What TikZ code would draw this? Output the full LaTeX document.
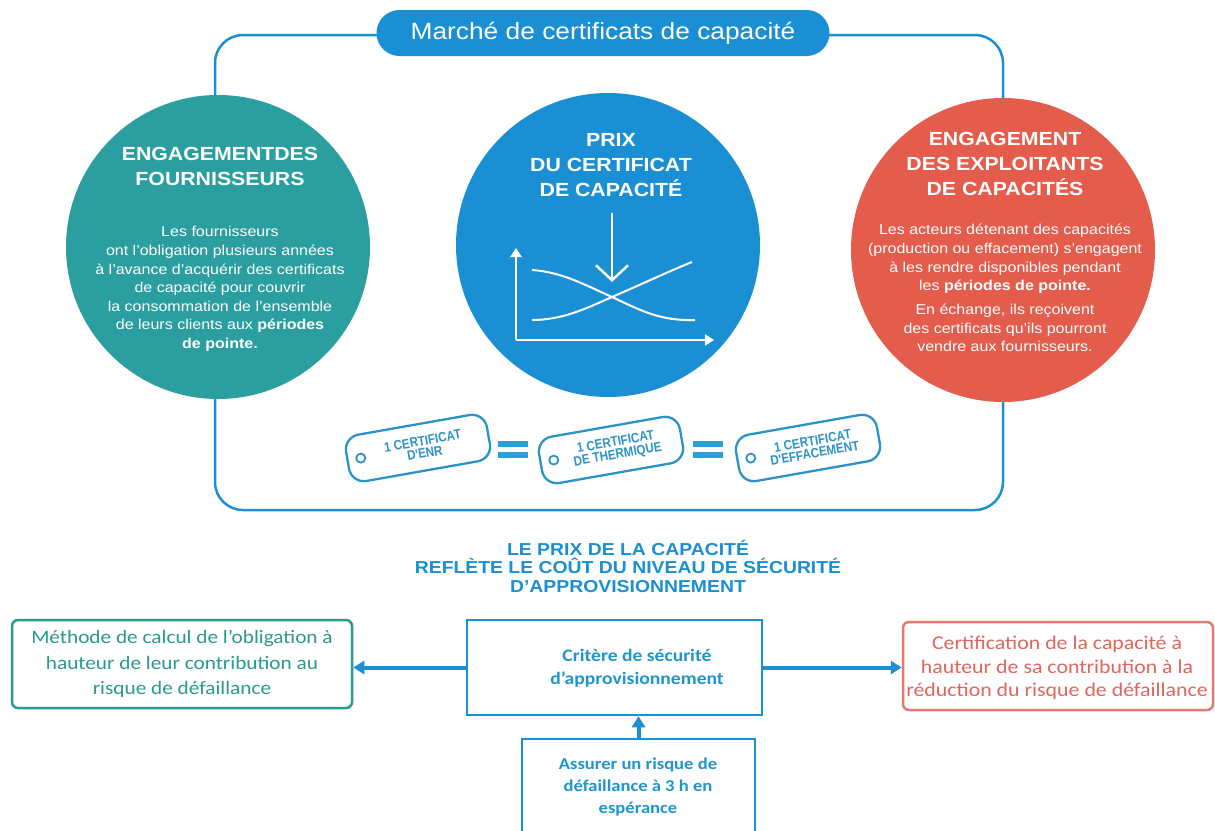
\documentclass[tikz,border=0pt]{standalone}
\usepackage{fontspec}
\setmainfont{Liberation Sans}[FakeStretch=1.12]
\newfontfamily\calfont{Carlito}[FakeStretch=1.12]
\newfontfamily\tagfont{Liberation Sans}[FakeStretch=0.86]
\usetikzlibrary{arrows.meta,calc,shapes.misc}
\definecolor{mblue}{HTML}{1B8FD4}
\definecolor{mteal}{HTML}{2B9EA0}
\definecolor{mred}{HTML}{E45C4C}
\definecolor{tagblue}{HTML}{2C93C9}
\definecolor{eqblue}{HTML}{2A9FD8}
\definecolor{boxteal}{HTML}{2A9A8E}
\definecolor{boxred}{HTML}{E27A6F}
\definecolor{txtred}{HTML}{E0665D}
\definecolor{txtblue}{HTML}{1F95CF}
\tikzset{
  frameline/.style={draw=mblue, line width=2.5pt},
  bubble/.style={circle, minimum size=304pt, inner sep=0pt},
  pill/.style={rounded rectangle, fill=mblue, text=white, minimum width=453pt, minimum height=46pt, inner sep=0pt, font=\fontsize{23.5}{26}\selectfont},
  ctitle/.style={text=white, align=center, inner sep=0pt, font=\bfseries\fontsize{19}{25}\selectfont},
  cbody/.style={text=white, align=center, inner sep=0pt, font=\fontsize{14.3}{18.6}\selectfont},
  chart/.style={draw=white, line width=2pt},
  tagbox/.style={draw=tagblue, line width=2.3pt, fill=white, rounded corners=15pt, minimum width=143pt, minimum height=47pt, rotate=10},
  tagtxt/.style={text=tagblue, align=center, inner sep=0pt, rotate=10, font=\tagfont\bfseries\fontsize{13.5}{12.5}\selectfont},
  tagdot/.style={circle, draw=tagblue, line width=1.8pt, minimum size=9pt, inner sep=0pt},
  heading/.style={text=mblue, align=center, inner sep=0pt, font=\bfseries\fontsize{17.3}{18.5}\selectfont},
  rbox/.style={rounded corners=6pt, line width=2.5pt, fill=white, inner sep=0pt},
  sbox/.style={draw=mblue, line width=2.5pt, fill=white, inner sep=0pt},
  btxt/.style={align=center, inner sep=0pt},
  barrow/.style={draw=mblue, line width=4pt, -{Triangle[length=11pt,width=13pt]}},
}
\begin{document}
\begin{tikzpicture}[x=1pt,y=-1pt]
\useasboundingbox[fill=white] (0,0) rectangle (1215,830);
% frame
\draw[frameline, rounded corners=28pt] (215,35) rectangle (1003,510);
% circles
\node[bubble, fill=mteal] (lc) at (218,247) {};
\node[bubble, fill=mblue] (cc) at (608,245) {};
\node[bubble, fill=mred] (rc) at (1003,250) {};
% title
\node[pill] (title) at (603,33) {Marché de certificats de capacité};
% left circle text
\node[ctitle] (lct) at (220,166) {ENGAGEMENTDES\\FOURNISSEURS};
\node[cbody] (lcb) at (220,289) {Les fournisseurs\\ont l'obligation plusieurs années\\à l'avance d'acquérir des certificats\\de capacité pour couvrir\\la consommation de l'ensemble\\de leurs clients aux \textbf{périodes}\\\textbf{de pointe.}};
% center circle text
\node[ctitle] (cct) at (611,165) {PRIX\\DU CERTIFICAT\\DE CAPACITÉ};
% chart
\coordinate (o) at (516,340);
\coordinate (ytop) at (516,248);
\coordinate (xend) at (714,340);
\draw[chart, -{Triangle[length=9pt,width=11pt]}] (o) -- (ytop);
\draw[chart, -{Triangle[length=9pt,width=11pt]}] (o) -- (xend);
\coordinate (d0) at (532,270);
\coordinate (cx) at (612,297);
\coordinate (d1) at (695,320);
\coordinate (i0) at (532,320);
\coordinate (i1) at (692,262);
\draw[chart] (d0) .. controls (562,272) and (585,285) .. (cx) .. controls (642,311) and (660,321) .. (d1);
\draw[chart] (i0) .. controls (562,320) and (585,309) .. (cx) .. controls (640,285) and (665,273) .. (i1);
\coordinate (a0) at (612,213);
\coordinate (a1) at (612,282);
\draw[chart, line width=2.5pt, -{Straight Barb[length=15pt,width=32pt]}] (a0) -- (a1);
% right circle text
\node[ctitle] (rct) at (1005,164) {ENGAGEMENT\\DES EXPLOITANTS\\DE CAPACITÉS};
\node[cbody] (rcb1) at (1005,259) {Les acteurs détenant des capacités\\(production ou effacement) s'engagent\\à les rendre disponibles pendant\\les \textbf{périodes de pointe.}};
\node[cbody] (rcb2) at (1005,328) {En échange, ils reçoivent\\des certificats qu'ils pourront\\vendre aux fournisseurs.};
% tags
\node[tagbox] (t1) at (418,448) {};
\node[tagdot] (t1d) at ($(t1.west)!0.1!(t1.east)$) {};
\node[tagtxt] (t1t) at ($(t1.center)!0.08!(t1.east)$) {1 CERTIFICAT\\D'ENR};
\node[tagbox] (t2) at (611,450) {};
\node[tagdot] (t2d) at ($(t2.west)!0.1!(t2.east)$) {};
\node[tagtxt] (t2t) at ($(t2.center)!0.08!(t2.east)$) {1 CERTIFICAT\\DE THERMIQUE};
\node[tagbox] (t3) at (808,448) {};
\node[tagdot] (t3d) at ($(t3.west)!0.1!(t3.east)$) {};
\node[tagtxt] (t3t) at ($(t3.center)!0.08!(t3.east)$) {1 CERTIFICAT\\D'EFFACEMENT};
% equals
\fill[eqblue] (498,441) rectangle (528,447);
\fill[eqblue] (498,452) rectangle (528,458);
\fill[eqblue] (693,441) rectangle (723,447);
\fill[eqblue] (693,452) rectangle (723,458);
% heading
\node[heading] (hd) at (628,566) {LE PRIX DE LA CAPACITÉ\\REFLÈTE LE COÛT DU NIVEAU DE SÉCURITÉ\\D'APPROVISIONNEMENT};
% bottom boxes
\node[rbox, draw=boxteal, minimum width=340pt, minimum height=88pt] (lb) at (182,664) {};
\node[btxt, text=boxteal, font=\calfont\fontsize{19}{25.5}\selectfont] (lbt) at (182,664) {Méthode de calcul de l’obligation à\\hauteur de leur contribution au\\risque de défaillance};
\node[sbox, minimum width=295pt, minimum height=95pt] (cb) at (614.5,667.5) {};
\node[btxt, text=txtblue, font=\calfont\bfseries\fontsize{17.5}{23.5}\selectfont] (cbt) at (637,668) {Critère de sécurité\\d’approvisionnement};
\node[rbox, draw=boxred, minimum width=310pt, minimum height=88pt] (rb) at (1058,666) {};
\node[btxt, text=txtred, font=\calfont\fontsize{19.5}{23.5}\selectfont] (rbt) at (1057,668) {Certification de la capacité à\\hauteur de sa contribution à la\\réduction du risque de défaillance};
\begin{scope}
\clip (0,0) rectangle (1215,830);
\node[sbox, minimum width=233pt, minimum height=110pt] (bb) at (638.5,794) {};
\end{scope}
\node[btxt, text=txtblue, font=\calfont\bfseries\fontsize{16.6}{22}\selectfont] (bbt) at (638,787) {Assurer un risque de\\défaillance à 3 h en\\espérance};
% arrows
\draw[barrow] (cb.west) -- (cb.west -| lb.east);
\draw[barrow] (cb.east) -- (cb.east -| rb.west);
\draw[barrow] (bb.north) -- (bb.north |- cb.south);
\end{tikzpicture}
\end{document}
